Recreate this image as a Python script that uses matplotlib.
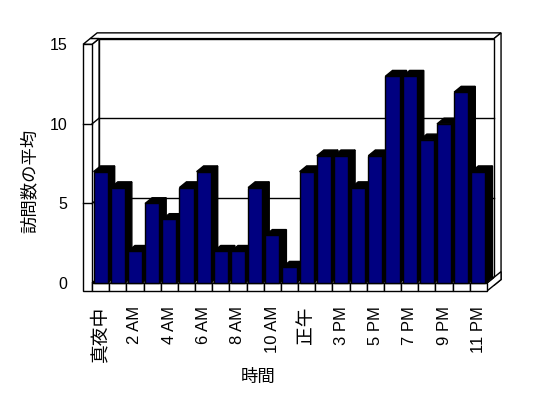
import matplotlib
matplotlib.use('Agg')
import matplotlib.pyplot as plt
from matplotlib.patches import Polygon, Rectangle

plt.rcParams['font.family'] = ['Liberation Sans', 'Noto Sans CJK JP']

# data: average visits per hour (13:00 has no data in the source)
hours = ['真夜中', '1 AM', '2 AM', '3 AM', '4 AM', '5 AM', '6 AM', '7 AM', '8 AM',
         '9 AM', '10 AM', '11 AM', '正午', '2 PM', '3 PM', '4 PM', '5 PM', '6 PM',
         '7 PM', '8 PM', '9 PM', '10 PM', '11 PM']
visits = [7, 6, 2, 5, 4, 6, 7, 2, 2, 6, 3, 1, 7, 8, 8, 6, 8, 13, 13, 9, 10, 12, 7]
yticks = [0, 5, 10, 15]

n = len(visits)
ymax = 15
bw = 0.82          # bar front width
dx, dy = 0.41, 0.36  # depth offset (data units)
wall = 0.52        # left wall thickness
floor = 0.5        # floor thickness
x0, x1 = -0.5, n - 0.5
navy = '#000080'

fig = plt.figure(figsize=(5.48, 3.98), dpi=100)
ax = fig.add_axes([80 / 548, 103 / 398, 425 / 548, 265 / 398])
ax.set_xlim(-1.2, 23.55)
ax.set_ylim(-0.75, 15.9)
for s in ax.spines.values():
    s.set_visible(False)


def poly(pts, fc='white', z=1):
    ax.add_patch(Polygon(pts, closed=True, fc=fc, ec='black', lw=1, zorder=z))


# back wall (slab between depth 1 and 2)
xl = x0 - wall
poly([(xl + dx, ymax + dy), (x1 + dx, ymax + dy), (x1 + 2 * dx, ymax + 2 * dy),
      (xl + 2 * dx, ymax + 2 * dy)])
poly([(x1 + dx, -floor + dy), (x1 + dx, ymax + dy), (x1 + 2 * dx, ymax + 2 * dy),
      (x1 + 2 * dx, -floor + 2 * dy)])
poly([(x0 + dx, dy), (x1 + dx, dy), (x1 + dx, ymax + dy), (x0 + dx, ymax + dy)])

# left wall
poly([(x0, 0), (x0, ymax), (x0 + dx, ymax + dy), (x0 + dx, dy)])
poly([(xl, ymax), (x0, ymax), (x0 + dx, ymax + dy), (xl + dx, ymax + dy)])
poly([(xl, -floor), (x0, -floor), (x0, ymax), (xl, ymax)])

# floor
poly([(x1, -floor), (x1, 0), (x1 + 2 * dx, 2 * dy), (x1 + 2 * dx, -floor + 2 * dy)])
poly([(x0, 0), (x1, 0), (x1 + dx, dy), (x0 + dx, dy)])
for i in range(n):
    ax.add_patch(Rectangle((i - 0.5, -floor), 1, floor, fc='white', ec='black', lw=1, zorder=1))

# gridlines on walls + ticks on the wall front
for v in yticks[1:-1]:
    ax.plot([x0 + dx, x1 + dx], [v + dy, v + dy], color='black', lw=1, zorder=2)
    ax.plot([x0, x0 + dx], [v, v + dy], color='black', lw=1, zorder=2)
    ax.plot([xl, x0], [v, v], color='black', lw=1, zorder=2)

# bars, left to right
for i, v in enumerate(visits):
    l, r = i - bw / 2, i + bw / 2
    poly([(r, 0), (r + dx, dy), (r + dx, v + dy), (r, v)], fc='black', z=3)
    poly([(l, v), (r, v), (r + dx, v + dy), (l + dx, v + dy)], fc='black', z=3)
    poly([(l, 0), (r, 0), (r, v), (l, v)], fc=navy, z=3)

ax.set_yticks(yticks)
ax.set_yticklabels([str(t) for t in yticks], fontsize=11.5)
ax.set_xticks(range(0, n, 2))
ax.set_xticklabels(hours[::2], rotation=90, fontsize=12)
for t in ax.get_xticklabels():
    if not t.get_text()[0].isdigit():
        t.set_fontsize(13.5)
ax.tick_params(axis='y', length=0, pad=9)
ax.tick_params(axis='x', length=0, pad=8)

ax.set_ylabel('訪問数の平均', fontsize=12.5)
ax.yaxis.set_label_coords(-0.1, 0.43)
ax.set_xlabel('時間', fontsize=12.5)
ax.xaxis.set_label_coords(0.42, -0.28)

fig.savefig('out.png', dpi=100)
